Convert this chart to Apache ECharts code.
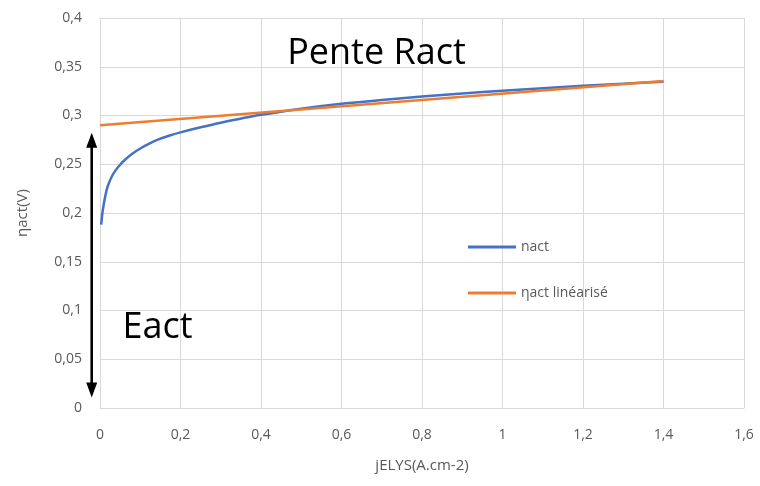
<!DOCTYPE html>
<html>
<head>
<meta charset="utf-8" />
<title>ηact</title>
<script src="https://cdn.jsdelivr.net/npm/echarts@6/dist/echarts.min.js"></script>
<style>
	html, body { margin: 0; padding: 0; background: #fff; }
	#main { width: 760px; height: 486px; }
</style>
</head>
<body>
<div id="main"></div>
<script>
// courant jELYS (A.cm-2)
var jVals = [0.003, 0.006, 0.01, 0.015, 0.02, 0.03, 0.04, 0.05, 0.06, 0.08, 0.1, 0.125, 0.15, 0.175, 0.2, 0.25, 0.3, 0.4, 0.5, 0.6, 0.7, 0.8, 0.9, 1.0, 1.1, 1.2, 1.3, 1.4];
// ηact (V)
var etaVals = [0.188, 0.2, 0.2105, 0.221, 0.2285, 0.238, 0.2445, 0.2495, 0.2538, 0.2607, 0.2662, 0.2717, 0.2762, 0.2797, 0.2827, 0.2879, 0.2926, 0.3007, 0.307, 0.312, 0.316, 0.3195, 0.3226, 0.3254, 0.328, 0.3304, 0.3326, 0.3346];
// droite linéarisée
var linJ = [0, 1.4];
var linEta = [0.290, 0.3355];
var seriesNames = ['nact', 'ηact linéarisé'];
// annotations (coordonnées en unités du graphique)
var arrowX = -0.0206;
var arrowY = [0.0108, 0.2823];
var notes = [
	{ text: 'Pente Ract', x: 0.465, y: 0.363 },
	{ text: 'Eact', x: 0.056, y: 0.082 }
];

function zip(a, b) {
	var out = [];
	for (var i = 0; i < a.length; i++) out.push([a[i], b[i]]);
	return out;
}
function comma(v) {
	return String(+v.toFixed(2)).replace('.', ',');
}

var chart = echarts.init(document.getElementById('main'));
var font = 'Open Sans';

chart.setOption({
	animation: false,
	grid: { left: 100, right: 16, top: 18, bottom: 78 },
	legend: {
		orient: 'vertical',
		left: 463,
		top: 235,
		itemGap: 32,
		itemWidth: 48,
		itemHeight: 3,
		icon: 'rect',
		textStyle: { color: '#595959', fontSize: 14, fontFamily: font },
		data: seriesNames
	},
	xAxis: {
		type: 'value',
		min: 0, max: 1.6, interval: 0.2,
		name: 'jELYS(A.cm-2)',
		nameLocation: 'middle',
		nameGap: 50,
		nameTextStyle: { color: '#595959', fontSize: 15, fontFamily: font },
		axisLine: { show: true, lineStyle: { color: '#d9d9d9' } },
		axisTick: { show: false },
		axisLabel: { color: '#595959', fontSize: 14, fontFamily: font, margin: 20, formatter: comma },
		splitLine: { show: true, lineStyle: { color: '#d9d9d9' } }
	},
	yAxis: {
		type: 'value',
		min: 0, max: 0.4, interval: 0.05,
		name: 'ηact(V)',
		nameLocation: 'middle',
		nameGap: 70,
		nameTextStyle: { color: '#595959', fontSize: 15, fontFamily: font },
		axisLine: { show: true, lineStyle: { color: '#d9d9d9' } },
		axisTick: { show: false },
		axisLabel: { color: '#595959', fontSize: 14, fontFamily: font, margin: 18, formatter: comma },
		splitLine: { show: true, lineStyle: { color: '#d9d9d9' } }
	},
	series: [
		{
			name: seriesNames[0],
			type: 'line',
			smooth: 0.3,
			showSymbol: false,
			color: '#4472c4',
			lineStyle: { width: 2.5 },
			data: zip(jVals, etaVals)
		},
		{
			name: seriesNames[1],
			type: 'line',
			showSymbol: false,
			color: '#ed7d31',
			lineStyle: { width: 2.5 },
			data: zip(linJ, linEta)
		}
	]
});

// flèche double et textes, placés via les coordonnées du graphique
var px = function (x, y) { return chart.convertToPixel({ gridIndex: 0 }, [x, y]); };
var pTop = px(arrowX, arrowY[1]);
var pBot = px(arrowX, arrowY[0]);
var headW = 5.5, headH = 15;
var graphics = [
	{
		type: 'line',
		shape: { x1: pTop[0], y1: pTop[1] + headH - 1, x2: pBot[0], y2: pBot[1] - headH + 1 },
		style: { stroke: '#000', lineWidth: 2.6 }
	},
	{
		type: 'polygon',
		shape: { points: [[pTop[0], pTop[1]], [pTop[0] - headW, pTop[1] + headH], [pTop[0] + headW, pTop[1] + headH]] },
		style: { fill: '#000' }
	},
	{
		type: 'polygon',
		shape: { points: [[pBot[0], pBot[1]], [pBot[0] - headW, pBot[1] - headH], [pBot[0] + headW, pBot[1] - headH]] },
		style: { fill: '#000' }
	}
];
notes.forEach(function (n) {
	var p = px(n.x, n.y);
	graphics.push({
		type: 'text',
		x: p[0], y: p[1],
		style: { text: n.text, fill: '#000', font: '36px "Open Sans"', textVerticalAlign: 'middle' }
	});
});
chart.setOption({ graphic: graphics });
</script>
</body>
</html>
